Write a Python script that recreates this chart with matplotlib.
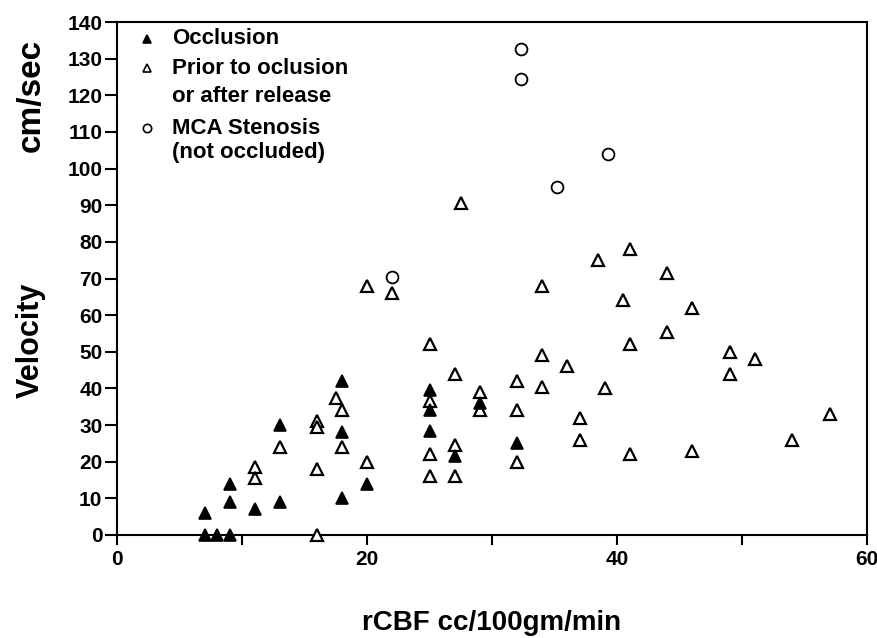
import matplotlib
matplotlib.use("Agg")
import matplotlib.pyplot as plt

plt.rcParams['font.family'] = ['Liberation Sans', 'DejaVu Sans']
plt.rcParams['font.weight'] = 'bold'

# Occlusion (filled triangles)
occ_x = [7, 7, 8, 9, 9, 9, 11, 13, 13, 18, 18, 18, 20, 25, 25, 25, 27, 29, 32]
occ_y = [6, 0, 0, 0, 14, 9, 7, 30, 9, 42, 28, 10, 14, 39.5, 34, 28.5, 21.5, 36, 25]

# Prior to occlusion or after release (open triangles)
prior_x = [11, 11, 13, 16, 16, 16, 16, 17.5, 18, 18, 20, 20, 22, 27.5, 34,
           25, 25, 25, 25, 27, 27, 27, 29, 29, 32, 32, 32, 34, 34, 36, 37, 37,
           38.5, 39, 40.5, 41, 41, 41, 44, 44, 46, 46, 49, 49, 51, 54, 57]
prior_y = [18.5, 15.5, 24, 31, 29.5, 18, 0, 37.5, 34, 24, 20, 68, 66, 90.5, 68,
           52, 36.5, 22, 16, 44, 24.5, 16, 39, 34, 42, 34, 20, 49, 40.5, 46, 32, 26,
           75, 40, 64, 78, 52, 22, 71.5, 55.5, 62, 23, 50, 44, 48, 26, 33]

# MCA stenosis, not occluded (open circles)
mca_x = [22, 32.3, 32.3, 35.2, 39.3]
mca_y = [70.5, 132.5, 124.5, 95, 104]

x_ticks = [0, 10, 20, 30, 40, 50, 60]
x_ticklabels = ['0', '', '20', '', '40', '', '60']
y_ticks = list(range(0, 141, 10))

fig = plt.figure(figsize=(8.77, 6.38), dpi=100)
ax = fig.add_axes([117 / 877, 1 - 535 / 638, 750 / 877, 513 / 638])

ax.plot(prior_x, prior_y, linestyle='none', marker='^', ms=8, mfc='white',
        mec='black', mew=1.6, clip_on=False, zorder=3)
ax.plot(occ_x, occ_y, linestyle='none', marker='^', ms=8, mfc='black',
        mec='black', mew=1.2, clip_on=False, zorder=4)
ax.plot(mca_x, mca_y, linestyle='none', marker='o', ms=8.5, mfc='white',
        mec='black', mew=1.3, clip_on=False, zorder=3)

ax.set_xlim(0, 60)
ax.set_ylim(0, 140)
ax.set_xticks(x_ticks)
ax.set_xticklabels(x_ticklabels)
ax.set_yticks(y_ticks)

for s in ax.spines.values():
    s.set_linewidth(1.5)
ax.tick_params(axis='x', direction='out', length=7.5, width=1.5, pad=3.5, labelsize=15)
ax.tick_params(axis='y', direction='out', length=8.5, width=1.5, pad=2, labelsize=15)
for lab in ax.get_xticklabels() + ax.get_yticklabels():
    lab.set_fontweight('bold')

fig.text(492 / 877, 1 - 630 / 638, 'rCBF cc/100gm/min', ha='center', va='baseline',
         fontsize=20, fontweight='bold')

fig.text(31 / 877, 1 - 95 / 638, 'cm/sec', rotation=90, ha='center', va='center',
         fontsize=24, fontweight='bold')
fig.text(31 / 877, 1 - 340 / 638, 'Velocity', rotation=90, ha='center', va='center',
         fontsize=22, fontweight='bold')

# legend, drawn by hand
leg_rows = [
    ('^', 'black', 'Occlusion', 0.967),
    ('^', 'white', 'Prior to oclusion', 0.910),
    (None, None, 'or after release', 0.854),
    ('o', 'white', 'MCA Stenosis', 0.793),
    (None, None, '(not occluded)', 0.745),
]
for mk, fc, txt, yy in leg_rows:
    if mk is not None:
        ax.plot([0.04], [yy], marker=mk, ms=6, mfc=fc, mec='black', mew=1.2,
                linestyle='none', transform=ax.transAxes, clip_on=False)
    ax.text(0.073, yy, txt, transform=ax.transAxes, ha='left', va='center',
            fontsize=16, fontweight='bold')

fig.savefig('out.png', dpi=100)
